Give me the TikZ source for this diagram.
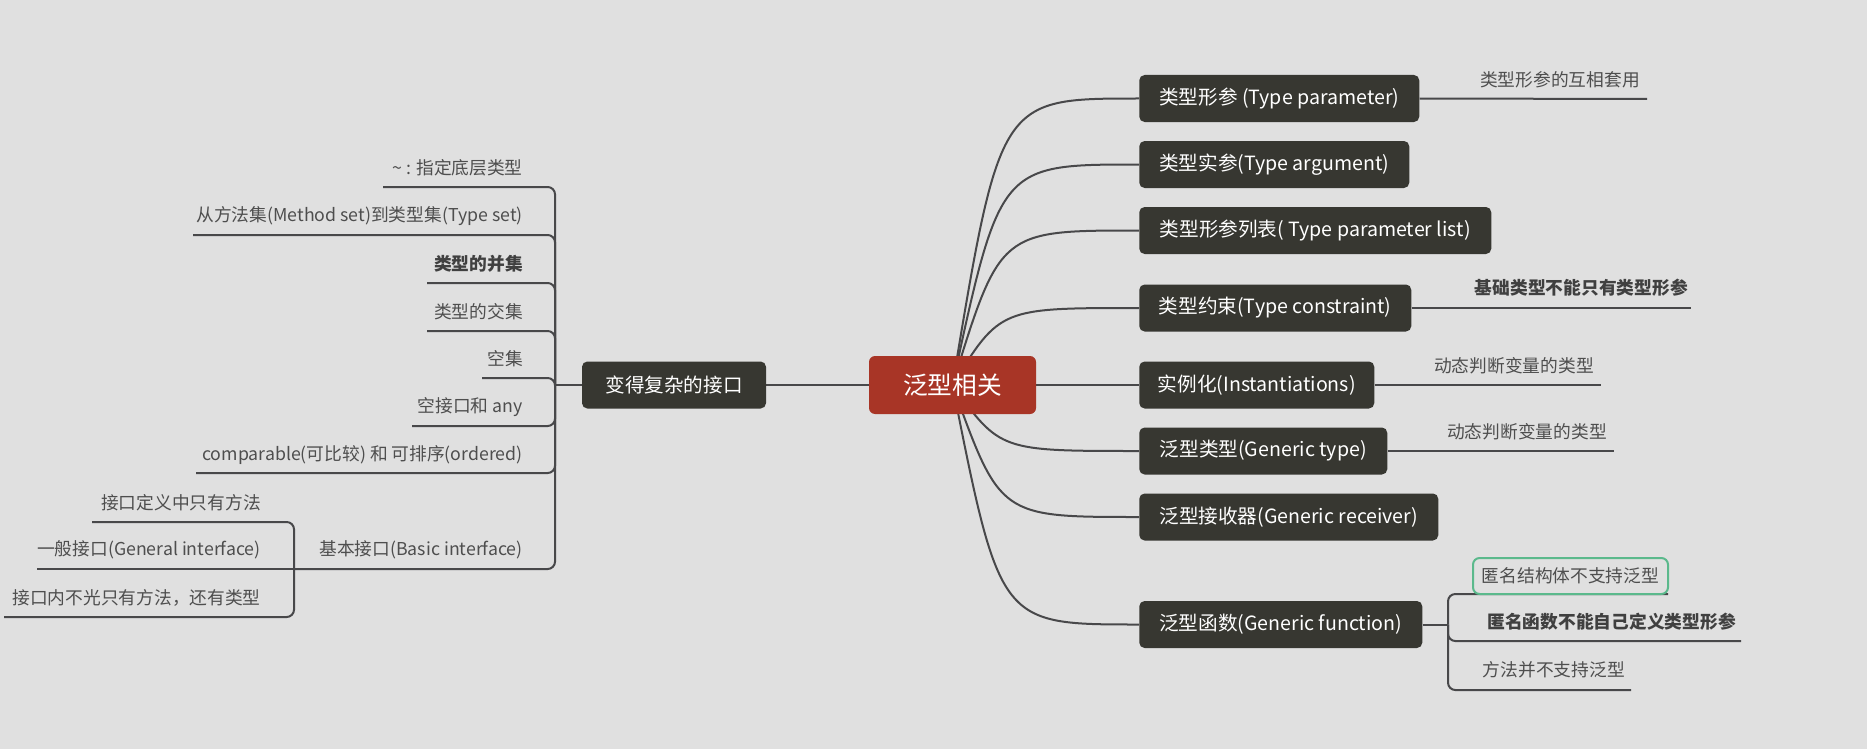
\documentclass[tikz,border=0pt]{standalone}
\usepackage{fontspec}
\setmainfont{Noto Sans CJK SC}
\usetikzlibrary{backgrounds}
\definecolor{bgc}{HTML}{E0E0E0}
\definecolor{topicc}{HTML}{373731}
\definecolor{mainc}{HTML}{A83526}
\definecolor{linec}{HTML}{48484A}
\definecolor{subc}{HTML}{4E4E4E}
\definecolor{greenc}{HTML}{5BB98C}
\tikzset{
  topic/.style={fill=topicc, text=white, rounded corners=4pt, minimum height=0.75*47pt,
    inner sep=0pt, font=\fontsize{14.7pt}{17pt}\selectfont, anchor=west},
  maintopic/.style={fill=mainc, text=white, rounded corners=4.5pt, minimum height=0.75*58pt,
    minimum width=0.75*167pt, inner sep=0pt, font=\fontsize{18.5pt}{21pt}\selectfont},
  subtext/.style={text=subc, inner sep=0pt, font=\fontsize{13.3pt}{16pt}\selectfont, anchor=east},
  boldtext/.style={subtext, font=\fontsize{13.3pt}{16pt}\selectfont\bfseries, text=black!75},
  conn/.style={draw=linec, line width=1.5pt},
  bracket/.style={conn, rounded corners=5.5pt},
  greenbox/.style={draw=greenc, line width=1.5pt, rounded corners=5pt, fill=bgc, text=subc,
    minimum width=0.75*195pt, minimum height=0.75*36pt, inner sep=0pt,
    font=\fontsize{13.3pt}{16pt}\selectfont}
}
\begin{document}
\begin{tikzpicture}[x=0.75pt, y=-0.75pt]
\useasboundingbox (0,0) rectangle (1867,749);

% central and first-level nodes
\node[maintopic] (main) at (952.5,385) {泛型相关};
\node[topic, anchor=center, minimum width=0.75*184pt] (left) at (674,385) {变得复杂的接口};

\node[topic, minimum width=0.75*280pt] (n1) at (1139,98.5) {类型形参 (Type parameter)};
\node[topic, minimum width=0.75*270pt] (n2) at (1139,164.5) {类型实参(Type argument)};
\node[topic, minimum width=0.75*352pt] (n3) at (1139,230.5) {类型形参列表( Type parameter list)};
\node[topic, minimum width=0.75*272pt] (n4) at (1139,308) {类型约束(Type constraint)};
\node[topic, minimum width=0.75*235pt] (n5) at (1139,385) {实例化(Instantiations)};
\node[topic, minimum width=0.75*248pt] (n6) at (1139,451) {泛型类型(Generic type)};
\node[topic, minimum width=0.75*299pt] (n7) at (1139,517) {泛型接收器(Generic receiver)};
\node[topic, minimum width=0.75*283pt] (n8) at (1139,624.5) {泛型函数(Generic function)};

% right sub topics
\node[subtext] (s1) at (1640,80) {类型形参的互相套用};
\coordinate (s1e) at (1647,99);
\node[boldtext] (s4) at (1688,288) {基础类型不能只有类型形参};
\coordinate (s4e) at (1691,308);
\node[subtext] (s5) at (1594,366) {动态判断变量的类型};
\coordinate (s5e) at (1601,385);
\node[subtext] (s6) at (1607,432) {动态判断变量的类型};
\coordinate (s6e) at (1614,451);

\coordinate (K) at (1448,624.5);
\coordinate (r1e) at (1668,594);
\coordinate (r2e) at (1741,641);
\coordinate (r3e) at (1631,690);
\draw[conn] (n8.east) -- (K);
\draw[bracket] (K) |- (r1e);
\draw[bracket] (K) |- (r2e);
\draw[bracket] (K) |- (r3e);
\node[greenbox] (r1) at (1570.5,576) {匿名结构体不支持泛型};
\node[boldtext] (r2) at (1736,622) {匿名函数不能自己定义类型形参};
\node[subtext] (r3) at (1625,670) {方法并不支持泛型};

\draw[conn] (n1.east) -- (s1e);
\draw[conn] (n4.east) -- (s4e);
\draw[conn] (n5.east) -- (s5e);
\draw[conn] (n6.east) -- (s6e);

% left sub topics
\coordinate (J) at (555,385);
\node[subtext] (l1) at (523,168) {\char"007E{} : 指定底层类型};
\coordinate (l1e) at (383,187);
\node[subtext] (l2) at (523,216) {从方法集(Method set)到类型集(Type set)};
\coordinate (l2e) at (193,235);
\node[boldtext] (l3) at (523,264) {类型的并集};
\coordinate (l3e) at (427,283);
\node[subtext] (l4) at (523,312) {类型的交集};
\coordinate (l4e) at (427,331);
\node[subtext] (l5) at (523,359) {空集};
\coordinate (l5e) at (482,378);
\node[subtext] (l6) at (523,407) {空接口和 any};
\coordinate (l6e) at (412,426);
\node[subtext] (l7) at (523,455) {comparable(可比较) 和 可排序(ordered)};
\coordinate (l7e) at (196,473);
\node[subtext] (l8) at (523,550) {基本接口(Basic interface)};
\coordinate (J2) at (294,569);

\node[subtext] (m1) at (261,503) {接口定义中只有方法};
\coordinate (m1e) at (92,522);
\node[subtext] (m2) at (261,550) {一般接口(General interface)};
\coordinate (m2e) at (37,569);
\node[subtext] (m3) at (261,598) {接口内不光只有方法，还有类型};
\coordinate (m3e) at (4,617);

\draw[conn] (left.west) -- (J);
\draw[bracket] (J) |- (l1e);
\draw[bracket] (J) |- (l2e);
\draw[bracket] (J) |- (l3e);
\draw[bracket] (J) |- (l4e);
\draw[bracket] (J) |- (l5e);
\draw[bracket] (J) |- (l6e);
\draw[bracket] (J) |- (l7e);
\draw[bracket] (J) |- (J2);
\draw[conn] (J2) -- (m2e);
\draw[bracket] (J2) |- (m1e);
\draw[bracket] (J2) |- (m3e);

\begin{scope}[on background layer]
  \fill[bgc] (0,0) rectangle (1867,749);
  \draw[conn] (left.east) -- (main.west);
  \draw[conn] (main.center) .. controls (1000,98.5) .. (n1.west);
  \draw[conn] (main.center) .. controls (1000,164.5) .. (n2.west);
  \draw[conn] (main.center) .. controls (1000,230.5) .. (n3.west);
  \draw[conn] (main.center) .. controls (1000,308) .. (n4.west);
  \draw[conn] (main.center) -- (n5.west);
  \draw[conn] (main.center) .. controls (1000,451) .. (n6.west);
  \draw[conn] (main.center) .. controls (1000,517) .. (n7.west);
  \draw[conn] (main.center) .. controls (1000,624.5) .. (n8.west);
\end{scope}
\end{tikzpicture}
\end{document}
